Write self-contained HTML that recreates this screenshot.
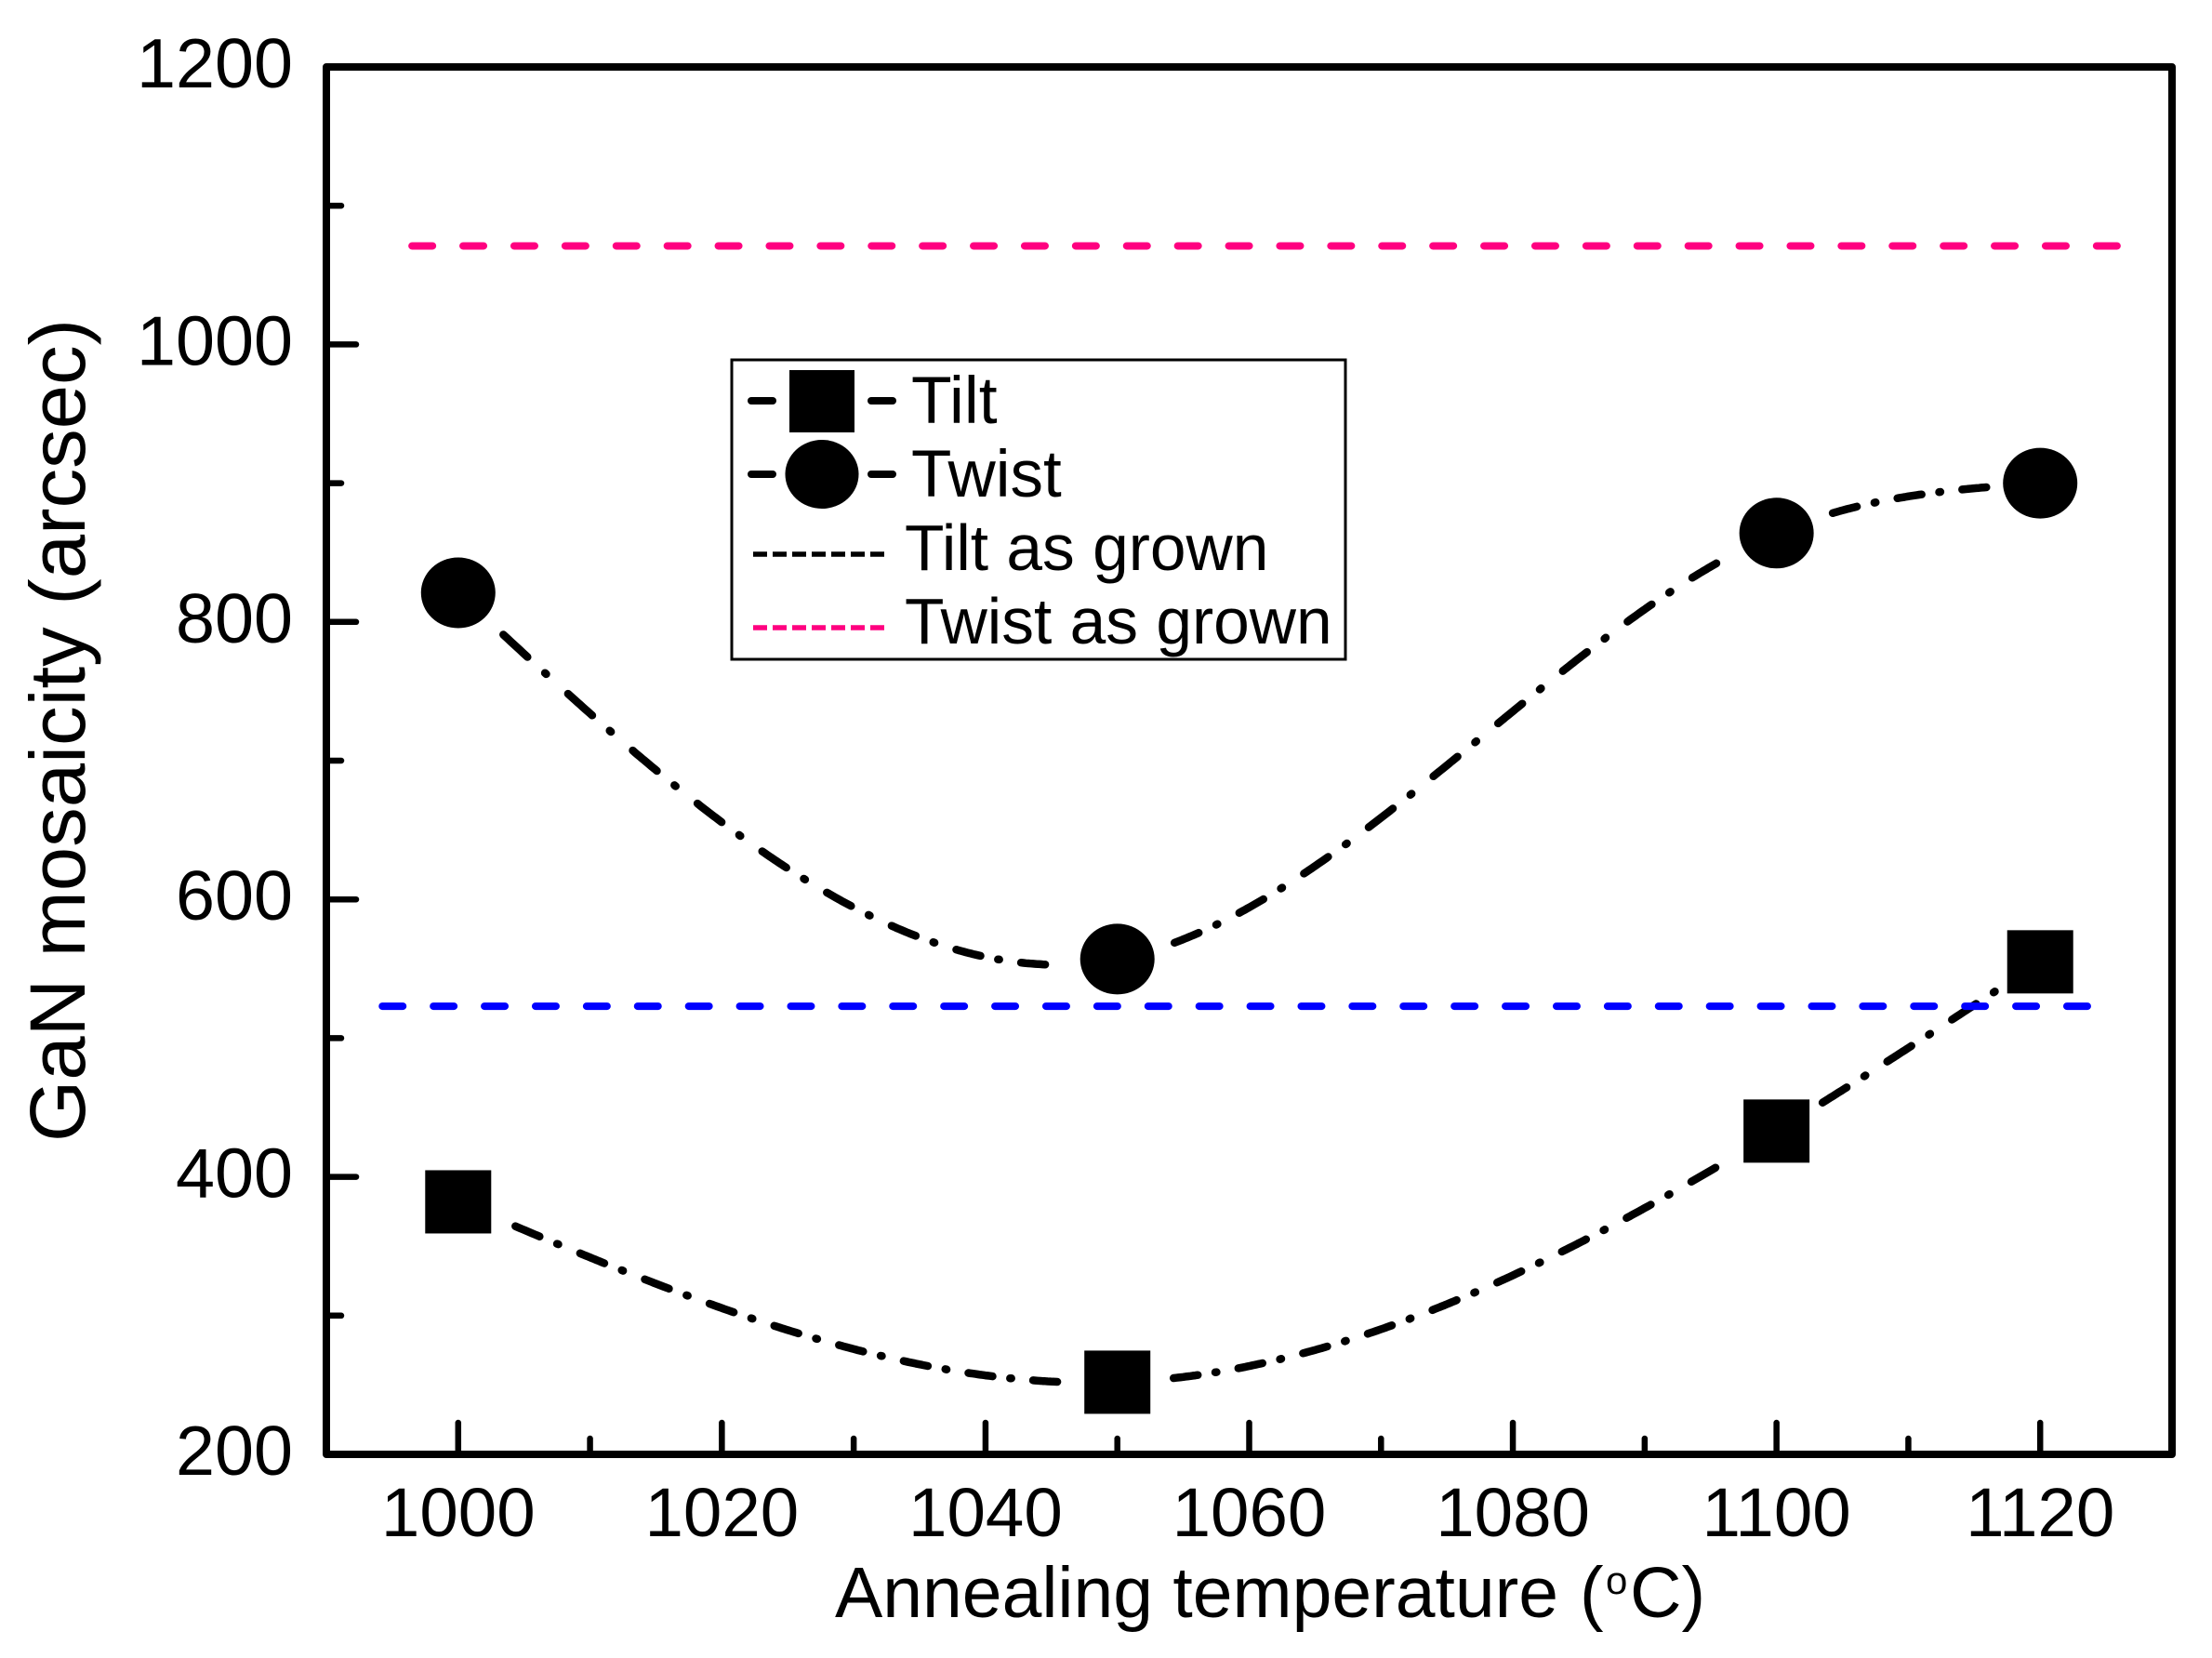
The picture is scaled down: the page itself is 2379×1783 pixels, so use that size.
<!DOCTYPE html>
<html>
<head>
<meta charset="utf-8">
<title>GaN mosaicity vs annealing temperature</title>
<style>
html,body{margin:0;padding:0;background:#fff;}
svg{display:block;}
text{font-family:"Liberation Sans",Arial,sans-serif;fill:#000;}
</style>
</head>
<body>
<svg id="chart" xmlns="http://www.w3.org/2000/svg" width="2379" height="1783" viewBox="0 0 2379 1783">
  <rect x="0" y="0" width="2379" height="1783" fill="#fff"/>
  <g id="curves"></g>
  <g id="markers"></g>
  <g id="refs"></g>
  <g id="axes"></g>
  <rect x="351" y="72" width="1985" height="1492" fill="none" stroke="#000" stroke-width="8" stroke-linejoin="round"/>
  <text x="898" y="1739" font-size="76.9">Annealing temperature<tspan x="1699">(</tspan><tspan x="1727" dy="-25" font-size="42" font-weight="300">o</tspan><tspan x="1753" dy="25">C)</tspan></text>
  <text transform="translate(91 1228) rotate(-90)" font-size="84" textLength="885" lengthAdjust="spacingAndGlyphs">GaN mosaicity (arcsec)</text>
  <g>
    <rect x="787" y="387" width="660" height="322" fill="#fff" stroke="#000" stroke-width="3"/>
    <g>
      <line x1="808" y1="431" x2="831" y2="431" stroke="#000" stroke-width="8" stroke-linecap="round"/>
      <rect x="849" y="398" width="70" height="67" fill="#000"/>
      <line x1="937" y1="431" x2="960" y2="431" stroke="#000" stroke-width="8" stroke-linecap="round"/>
      <text x="980" y="455" font-size="71.5">Tilt</text>
    </g>
    <g>
      <line x1="808" y1="510" x2="831" y2="510" stroke="#000" stroke-width="8" stroke-linecap="round"/>
      <ellipse cx="884" cy="510" rx="39.5" ry="37" fill="#000"/>
      <line x1="937" y1="510" x2="960" y2="510" stroke="#000" stroke-width="8" stroke-linecap="round"/>
      <text x="980" y="534" font-size="71">Twist</text>
    </g>
    <g>
      <line x1="810" y1="596" x2="952" y2="596" stroke="#000" stroke-width="5.5" stroke-dasharray="15 6"/>
      <text x="973" y="613" font-size="69.5">Tilt as grown</text>
    </g>
    <g>
      <line x1="810" y1="675" x2="952" y2="675" stroke="#ff0080" stroke-width="5.5" stroke-dasharray="15 6"/>
      <text x="973" y="692" font-size="69.5">Twist as grown</text>
    </g>
  </g>
</svg>
<script>
var temperatures = [1000, 1050, 1100, 1120];
var tiltValues = [382, 252, 433, 555];
var twistValues = [821, 557, 864, 900];
var tiltAsGrown = [523, 523];
var twistAsGrown = [1071, 1071];
var tiltAsGrownRange = [994.25, 1124];
var twistAsGrownRange = [996.5, 1126];
var xTickLabels = [1000, 1020, 1040, 1060, 1080, 1100, 1120];
var xMinorTicks = [1010, 1030, 1050, 1070, 1090, 1110];
var yTickLabels = [200, 400, 600, 800, 1000, 1200];
var yMinorTicks = [300, 500, 700, 900, 1100];

var NS = 'http://www.w3.org/2000/svg';
var X0 = 351, X1 = 2336, Y0 = 1564, Y1 = 72;
function xScale(v) { return X0 + (v - 990) / (1130 - 990) * (X1 - X0); }
function yScale(v) { return Y0 + (v - 200) / (1200 - 200) * (Y1 - Y0); }
function xInvert(px) { return 990 + (px - X0) / (X1 - X0) * (1130 - 990); }
function make(tag, attrs, parent) {
  var el = document.createElementNS(NS, tag);
  for (var k in attrs) el.setAttribute(k, attrs[k]);
  parent.appendChild(el);
  return el;
}

/* natural cubic spline through the measured points */
function splineSampler(xs, ys) {
  var n = xs.length, h = [], a = [], l = [1], mu = [0], z = [0], c = new Array(n).fill(0);
  var b = new Array(n), d = new Array(n), i;
  for (i = 0; i < n - 1; i++) h[i] = xs[i + 1] - xs[i];
  for (i = 1; i < n - 1; i++) a[i] = 3 * (ys[i + 1] - ys[i]) / h[i] - 3 * (ys[i] - ys[i - 1]) / h[i - 1];
  for (i = 1; i < n - 1; i++) {
    l[i] = 2 * (xs[i + 1] - xs[i - 1]) - h[i - 1] * mu[i - 1];
    mu[i] = h[i] / l[i];
    z[i] = (a[i] - h[i - 1] * z[i - 1]) / l[i];
  }
  for (i = n - 2; i >= 0; i--) {
    c[i] = z[i] - (mu[i] || 0) * c[i + 1];
    b[i] = (ys[i + 1] - ys[i]) / h[i] - h[i] * (c[i + 1] + 2 * c[i]) / 3;
    d[i] = (c[i + 1] - c[i]) / (3 * h[i]);
  }
  return function (seg, x) {
    var t = x - xs[seg];
    return ys[seg] + b[seg] * t + c[seg] * t * t + d[seg] * t * t * t;
  };
}

var curves = document.getElementById('curves');
var markers = document.getElementById('markers');
var refs = document.getElementById('refs');
var axes = document.getElementById('axes');

/* the dash-dot pattern in the figure repeats at a constant horizontal pitch */
function drawCurvePiece(name, f, seg, pxA, pxB) {
  var pts = [];
  var steps = 10;
  for (var s = 0; s <= steps; s++) {
    var px = pxA + (pxB - pxA) * s / steps;
    pts.push(px.toFixed(1) + ',' + yScale(f(seg, xInvert(px))).toFixed(1));
  }
  var p = make('polyline', {
    points: pts.join(' '), fill: 'none', stroke: '#000', 'stroke-width': 8.5,
    'stroke-linecap': 'round', 'stroke-linejoin': 'round'
  }, curves);
  
  
}
function drawSeries(name, values, startLead, endGap, halfWidth) {
  var f = splineSampler(temperatures, values);
  var pitch = 69.6;
  for (var i = 0; i < temperatures.length - 1; i++) {
    var limit = xScale(temperatures[i + 1]) - halfWidth - endGap[i];
    var x = xScale(temperatures[i]) + startLead[i];
    while (x + 33 <= limit) {
      drawCurvePiece(name, f, i, x + 3.5, x + 29.5);
      if (x + 49 <= limit) drawCurvePiece(name, f, i, x + 48.3, x + 49.7);
      x += pitch;
    }
  }
}
drawSeries('tilt', tiltValues, [58, 57, 46], [20, 20, 13], 35.5);
drawSeries('twist', twistValues, [45, 58, 57], [25, 19, 11], 40);

temperatures.forEach(function (t, i) {
  var cx = xScale(t), cy = yScale(tiltValues[i]);
  var sq = make('rect', { x: cx - 35.5, y: cy - 34, width: 71, height: 68, fill: '#000' }, markers);
  
  
  var ty = yScale(twistValues[i]);
  var c = make('ellipse', { cx: cx, cy: ty, rx: 40, ry: 38, fill: '#000' }, markers);
  
  
});

var tiltRef = make('line', {
  x1: xScale(tiltAsGrownRange[0]), x2: xScale(tiltAsGrownRange[1]),
  y1: yScale(tiltAsGrown[0]), y2: yScale(tiltAsGrown[1]),
  stroke: '#0000ff', 'stroke-width': 8, 'stroke-linecap': 'round', 'stroke-dasharray': '22 32.9'
}, refs);


var twistRef = make('line', {
  x1: xScale(twistAsGrownRange[0]), x2: xScale(twistAsGrownRange[1]),
  y1: yScale(twistAsGrown[0]), y2: yScale(twistAsGrown[1]),
  stroke: '#ff0080', 'stroke-width': 8, 'stroke-linecap': 'round', 'stroke-dasharray': '22 32.9'
}, refs);



function tickLine(x1, y1, x2, y2, name) {
  var l = make('line', { x1: x1, y1: y1, x2: x2, y2: y2, stroke: '#000', 'stroke-width': 6.5, 'stroke-linecap': 'round' }, axes);
  
  
}
xTickLabels.forEach(function (v) {
  tickLine(xScale(v), Y0, xScale(v), Y0 - 34, 'x-tick-major');
  var t = make('text', { x: xScale(v), y: 1652, 'font-size': 74.5, 'text-anchor': 'middle' }, axes);
  t.textContent = String(v);
  
  
});
xMinorTicks.forEach(function (v) {
  tickLine(xScale(v), Y0, xScale(v), Y0 - 17, 'x-tick-minor');
});
yTickLabels.forEach(function (v) {
  tickLine(X0, yScale(v), X0 + 32, yScale(v), 'y-tick-major');
  var t = make('text', { x: 315, y: yScale(v) + 22, 'font-size': 75.5, 'text-anchor': 'end' }, axes);
  t.textContent = String(v);
  
  
});
yMinorTicks.forEach(function (v) {
  tickLine(X0, yScale(v), X0 + 16, yScale(v), 'y-tick-minor');
});
</script>
</body>
</html>
